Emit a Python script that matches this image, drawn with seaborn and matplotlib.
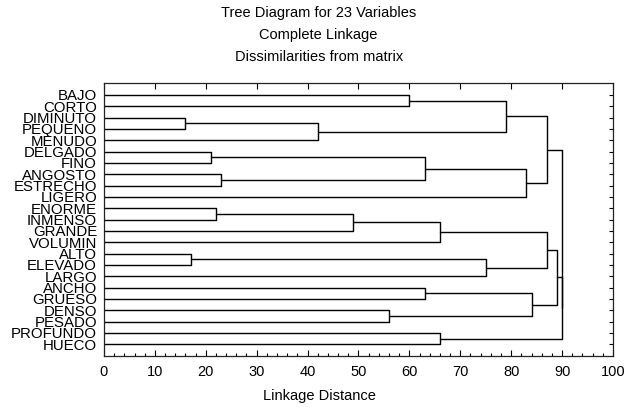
import numpy as np
import pandas as pd
import matplotlib
matplotlib.use("Agg")
import matplotlib.pyplot as plt
from matplotlib.ticker import MultipleLocator
import seaborn as sns

# leaf order, top to bottom
leaves = ["BAJO", "CORTO", "DIMINUTO", "PEQUENO", "MENUDO", "DELGADO", "FINO",
          "ANGOSTO", "ESTRECHO", "LIGERO", "ENORME", "INMENSO", "GRANDE", "VOLUMIN",
          "ALTO", "ELEVADO", "LARGO", "ANCHO", "GRUESO", "DENSO", "PESADO",
          "PROFUNDO", "HUECO"]

# merges (scipy-like): new cluster id = 23 + row index
merge_a = [0, 2, 24, 23, 5, 7, 27, 29, 26, 10, 32, 33, 14, 35, 34, 17, 19, 38, 37, 21, 41, 31]
merge_b = [1, 3, 4, 25, 6, 8, 28, 9, 30, 11, 12, 13, 15, 16, 36, 18, 20, 39, 40, 22, 42, 43]
heights = [60, 16, 42, 79, 21, 23, 63, 83, 87, 22, 49, 66, 17, 75, 87, 63, 56, 84, 89, 66, 90, 90]

sns.set_style("white")
plt.rcParams["font.family"] = ["Liberation Sans", "DejaVu Sans"]
plt.rcParams["text.color"] = "black"
plt.rcParams["xtick.color"] = "black"
plt.rcParams["ytick.color"] = "black"
plt.rcParams["axes.labelcolor"] = "black"

n = len(leaves)
node_x = {i: 0.0 for i in range(n)}
node_y = {i: float(i) for i in range(n)}
rows = []
for k, (a, b, h) in enumerate(zip(merge_a, merge_b, heights)):
    xa, ya, xb, yb = node_x[a], node_y[a], node_x[b], node_y[b]
    for px, py in [(xa, ya), (h, ya), (h, yb), (xb, yb)]:
        rows.append({"seg": k, "x": px, "y": py})
    node_x[n + k] = h
    node_y[n + k] = (ya + yb) / 2
segs = pd.DataFrame(rows)

fig = plt.figure(figsize=(6.26, 4.07), dpi=100)
ax = fig.add_axes([0.1661, 0.1265, 0.9792 - 0.1661, 0.7953 - 0.1265])
sns.lineplot(data=segs, x="x", y="y", units="seg", estimator=None, sort=False,
             color="black", linewidth=1.0, ax=ax, legend=False)

ax.set_xlim(0, 100)
ax.set_ylim(22.99, -1.03)
ax.xaxis.set_major_locator(MultipleLocator(10))
ax.xaxis.set_minor_locator(MultipleLocator(2))
ax.set_yticks(range(n))
ax.set_yticklabels(leaves, fontsize=10.8)
ax.tick_params(axis="x", which="major", direction="in", length=4, width=0.8,
               top=True, bottom=True, labelsize=10.5, pad=7)
ax.tick_params(axis="x", which="minor", direction="in", length=2, width=0.8,
               top=False, bottom=True)
ax.tick_params(axis="y", which="major", direction="in", length=3, width=0.8,
               left=False, right=True, pad=5)
for s in ax.spines.values():
    s.set_color("#222222")
    s.set_linewidth(0.9)
ax.set_xlabel("")
ax.set_ylabel("")

fig.text(0.509, 1 - 13 / 407, "Tree Diagram for 23 Variables", ha="center", va="center", fontsize=10.5)
fig.text(0.509, 1 - 35 / 407, "Complete Linkage", ha="center", va="center", fontsize=10.5)
fig.text(0.509, 1 - 57 / 407, "Dissimilarities from matrix", ha="center", va="center", fontsize=10.5)
fig.text(0.511, 1 - 396 / 407, "Linkage Distance", ha="center", va="center", fontsize=10.5)

fig.savefig("out.png", dpi=100)
